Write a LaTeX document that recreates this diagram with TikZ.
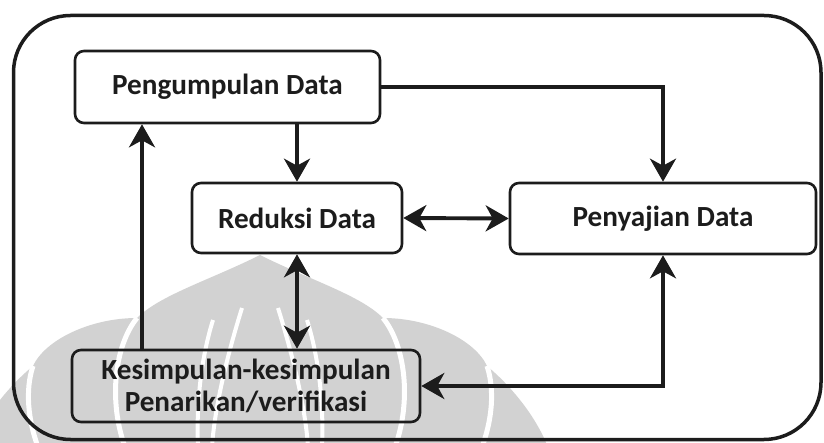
\documentclass[tikz,border=0pt]{standalone}
\usepackage{fontspec}
\setmainfont{Carlito}
\usetikzlibrary{arrows.meta,calc}
\definecolor{ink}{RGB}{28,28,28}
\definecolor{wm}{RGB}{210,210,210}
\begin{document}
\begin{tikzpicture}[x=1bp,y=-1bp,
  stage/.style={draw=ink, line width=2.6bp, rounded corners=9bp, inner sep=0pt,
    align=center, text=ink, font=\fontsize{29.3}{32}\selectfont\bfseries},
  flow/.style={draw=ink, line width=3.9bp, -{Stealth[length=23bp,width=26bp,inset=7bp]}},
  twoway/.style={draw=ink, line width=3.9bp,
    {Stealth[length=23bp,width=26bp,inset=7bp]}-{Stealth[length=23bp,width=26bp,inset=7bp]}},
  gap/.style={draw=white, line width=5bp},
  thin gap/.style={draw=white, line width=4bp}
]
\useasboundingbox (0,0) rectangle (824,443);

% faint university emblem behind the chart
\begin{scope}
  \clip (0,0) rectangle (824,443);
  \begin{scope}[shift={(260,0)}]
    % central dome
    \fill[wm] (0,255) .. controls (50,280) and (100,295) .. (123,318)
      .. controls (145,345) and (152,400) .. (135,445) -- (-135,445)
      .. controls (-152,400) and (-145,345) .. (-123,318)
      .. controls (-100,295) and (-50,280) .. (0,255) -- cycle;
    \foreach \s in {1,-1}{
      \begin{scope}[xscale=\s]
        % inner petal
        \fill[wm] (123,318) .. controls (170,318) and (215,340) .. (227,366)
          .. controls (235,390) and (232,420) .. (222,445) -- (135,445)
          .. controls (152,400) and (145,345) .. (123,318) -- cycle;
        % outer petal
        \fill[wm] (227,366) .. controls (250,385) and (275,415) .. (287,445)
          -- (222,445) .. controls (232,420) and (235,390) .. (227,366) -- cycle;
        % separating lines
        \draw[gap] (123,318) .. controls (145,345) and (152,400) .. (135,447);
        \draw[gap] (227,366) .. controls (235,390) and (232,420) .. (222,447);
        \draw[thin gap] (18,308) .. controls (28,340) and (45,400) .. (48,447);
        \draw[thin gap] (47,320) .. controls (58,355) and (64,400) .. (62,447);
      \end{scope}
    }
  \end{scope}
\end{scope}

% outer frame
\draw[ink, line width=3.5bp, rounded corners=57bp] (13.5,15.5) rectangle (821,439.5);

% stages
\node[stage, minimum width=305bp, minimum height=72bp] (peng) at (227.5,87) {Pengumpulan Data};
\node[stage, minimum width=210bp, minimum height=70bp] (red) at (297,218) {Reduksi Data};
\node[stage, minimum width=306bp, minimum height=71bp] (pen) at (663,218.5) {Penyajian Data};
\node[stage, minimum width=348bp, minimum height=72bp] (kes) at (246,386) {Kesimpulan-kesimpulan\\Penarikan/verifikasi};

\coordinate (back) at (142,0);

% connectors
\draw[flow] (peng.east) -| (pen.north);
\draw[flow] (red.north |- peng.south) -- (red.north);
\draw[twoway] (red.east) -- (pen.west);
\draw[twoway] (red.south) -- (red.south |- kes.north);
\draw[flow] (kes.north -| back) -- (peng.south -| back);
\draw[twoway] (pen.south) |- (kes.east);
\end{tikzpicture}
\end{document}
